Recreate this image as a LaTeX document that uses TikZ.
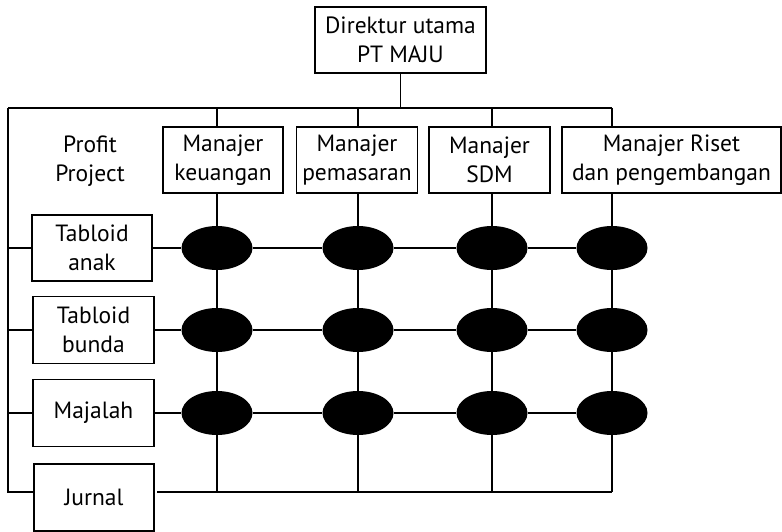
\documentclass[tikz,border=0pt]{standalone}
\usepackage{fontspec}
\setmainfont{PT Sans}
\usetikzlibrary{shapes.geometric}
\begin{document}
\begin{tikzpicture}[x=1pt,y=-1pt,
  font=\fontsize{23.5}{28.5}\selectfont,
  box/.style={draw,line width=1.8pt,align=center,inner sep=0pt},
  cell/.style={ellipse,fill=black,draw=none,minimum width=71pt,minimum height=44pt,inner sep=0pt},
  link/.style={line width=1.6pt}]
\useasboundingbox (0,0) rectangle (782,532);

% top of the hierarchy
\node[box,minimum width=171pt,minimum height=66pt] (dir) at (400.5,40) {Direktur utama\\PT MAJU};

% functional managers
\node[box,minimum width=120pt,minimum height=66pt] (keu) at (223,160) {Manajer\\keuangan};
\node[box,minimum width=121pt,minimum height=66pt] (pem) at (357,160) {Manajer\\pemasaran};
\node[box,minimum width=121pt,minimum height=66pt] (sdm) at (489.5,160) {Manajer\\SDM};
\node[box,minimum width=219pt,minimum height=66pt] (ris) at (671.5,160) {Manajer Riset\\dan pengembangan};

\node[align=center,inner sep=0pt] (pp) at (90,161) {Profit\\Project};

% profit projects
\node[box,minimum width=120pt,minimum height=66pt] (anak) at (92,248) {Tabloid\\anak};
\node[box,minimum width=121pt,minimum height=67pt] (bun) at (93.5,330) {Tabloid\\bunda};
\node[box,minimum width=121pt,minimum height=67pt] (maj) at (93.5,413) {Majalah};
\node[box,minimum width=120pt,minimum height=67pt] (jur) at (94,497.5) {Jurnal};

% matrix cells
\foreach \c/\x in {1/217,2/358,3/492,4/612}{
  \node[cell] (e1\c) at (\x,248) {};
  \node[cell] (e2\c) at (\x,330) {};
  \node[cell] (e3\c) at (\x,413) {};
}

\coordinate (busL) at (8,108);
\coordinate (jrow) at (157,492);

% bus from the director
\draw[link] (dir.south) -- (dir.south |- busL);
\draw[link] (busL) -- (e14 |- busL);
\draw[link] (busL) -- (busL |- jrow) -- (jur.west |- jrow);
\foreach \r in {anak,bun,maj}{
  \draw[link] (busL |- \r) -- (\r.west);
}
\draw[link] (e11 |- busL) -- (e11 |- keu.north);
\draw[link] (e12 |- busL) -- (e12 |- pem.north);
\draw[link] (e13 |- busL) -- (e13 |- sdm.north);
\draw[link] (e14 |- busL) -- (e14 |- ris.north);

% columns
\draw[link] (e11 |- keu.south) -- (e11);
\draw[link] (e12 |- pem.south) -- (e12);
\draw[link] (e13 |- sdm.south) -- (e13);
\draw[link] (e14 |- ris.south) -- (e14);
\foreach \c in {1,2,3,4}{
  \draw[link] (e1\c) -- (e2\c);
  \draw[link] (e2\c) -- (e3\c);
  \draw[link] (e3\c) -- (e3\c |- jrow);
}

% rows
\draw[link] (anak.east) -- (e11);
\draw[link] (bun.east) -- (e21);
\draw[link] (maj.east) -- (e31);
\foreach \r in {1,2,3}{
  \draw[link] (e\r1) -- (e\r2);
  \draw[link] (e\r2) -- (e\r3);
  \draw[link] (e\r3) -- (e\r4);
}
\draw[link] (jrow) -- (e14 |- jrow);
\end{tikzpicture}
\end{document}
